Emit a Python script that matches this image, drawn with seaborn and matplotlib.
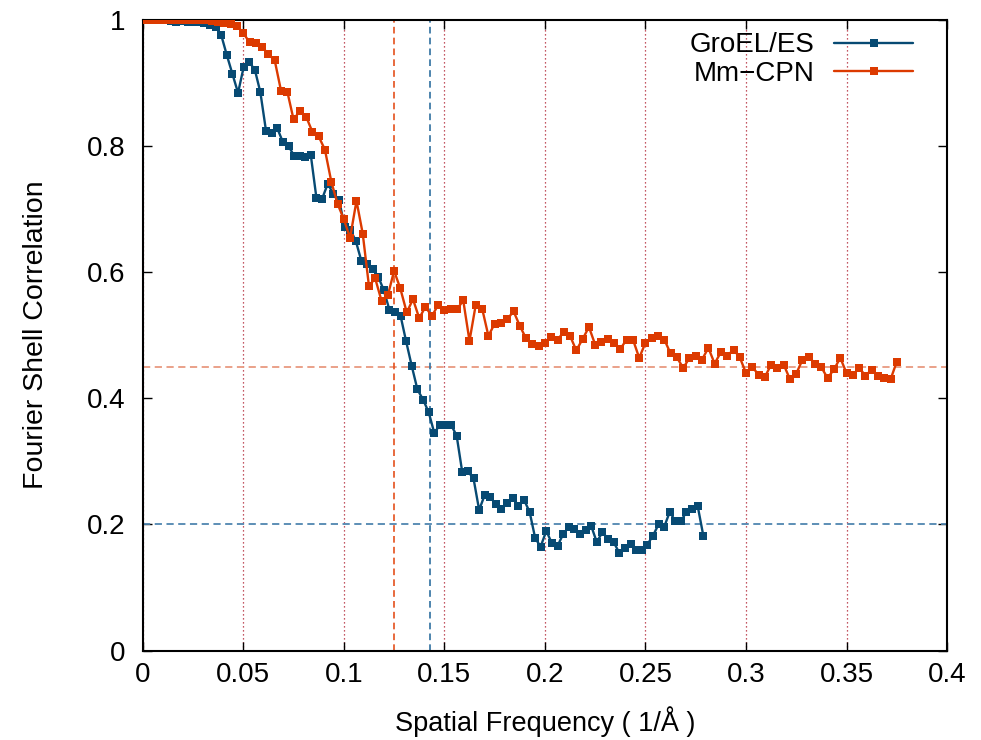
import matplotlib
matplotlib.use("Agg")
import matplotlib.pyplot as plt
import seaborn as sns
import pandas as pd

# ---------------- data ----------------
series_labels = ["GroEL/ES", "Mm\u2212CPN"]

blue_freq = [0.0000, 0.0028, 0.0056, 0.0084, 0.0112, 0.0139, 0.0167, 0.0195, 0.0223, 0.0251,
             0.0279, 0.0307, 0.0335, 0.0362, 0.0390, 0.0418, 0.0446, 0.0474, 0.0502, 0.0530,
             0.0558, 0.0585, 0.0613, 0.0641, 0.0669, 0.0697, 0.0725, 0.0753, 0.0781, 0.0809,
             0.0836, 0.0864, 0.0892, 0.0920, 0.0948, 0.0976, 0.1004, 0.1032, 0.1059, 0.1087,
             0.1115, 0.1143, 0.1171, 0.1199, 0.1227, 0.1255, 0.1282, 0.1310, 0.1338, 0.1366,
             0.1394, 0.1422, 0.1450, 0.1478, 0.1506, 0.1533, 0.1561, 0.1589, 0.1617, 0.1645,
             0.1673, 0.1701, 0.1729, 0.1756, 0.1784, 0.1812, 0.1840, 0.1868, 0.1896, 0.1924,
             0.1952, 0.1979, 0.2007, 0.2035, 0.2063, 0.2091, 0.2119, 0.2147, 0.2175, 0.2203,
             0.2230, 0.2258, 0.2286, 0.2314, 0.2342, 0.2370, 0.2398, 0.2426, 0.2453, 0.2481,
             0.2509, 0.2537, 0.2565, 0.2593, 0.2621, 0.2649, 0.2676, 0.2704, 0.2732, 0.2760,
             0.2788]
blue_fsc = [1.000, 1.000, 0.999, 0.999, 0.999, 0.998, 0.997, 0.998, 0.997, 0.996,
            0.996, 0.995, 0.992, 0.989, 0.976, 0.944, 0.914, 0.884, 0.925, 0.933,
            0.920, 0.885, 0.824, 0.820, 0.828, 0.806, 0.800, 0.784, 0.784, 0.783,
            0.785, 0.717, 0.716, 0.740, 0.724, 0.715, 0.672, 0.667, 0.650, 0.618,
            0.613, 0.605, 0.593, 0.571, 0.540, 0.537, 0.531, 0.490, 0.451, 0.414,
            0.398, 0.378, 0.345, 0.358, 0.358, 0.358, 0.341, 0.283, 0.284, 0.273,
            0.223, 0.247, 0.243, 0.232, 0.224, 0.234, 0.242, 0.230, 0.239, 0.220,
            0.178, 0.165, 0.190, 0.170, 0.166, 0.185, 0.196, 0.193, 0.185, 0.192,
            0.198, 0.172, 0.188, 0.177, 0.172, 0.155, 0.163, 0.169, 0.159, 0.159,
            0.168, 0.182, 0.200, 0.196, 0.220, 0.205, 0.205, 0.220, 0.225, 0.229,
            0.182]

red_freq = [0.0000, 0.0031, 0.0063, 0.0094, 0.0125, 0.0156, 0.0188, 0.0219, 0.0250, 0.0281,
            0.0313, 0.0344, 0.0375, 0.0406, 0.0438, 0.0469, 0.0500, 0.0531, 0.0563, 0.0594,
            0.0625, 0.0656, 0.0688, 0.0719, 0.0750, 0.0781, 0.0813, 0.0844, 0.0875, 0.0906,
            0.0938, 0.0969, 0.1000, 0.1031, 0.1063, 0.1094, 0.1125, 0.1156, 0.1188, 0.1219,
            0.1250, 0.1281, 0.1313, 0.1344, 0.1375, 0.1406, 0.1438, 0.1469, 0.1500, 0.1531,
            0.1563, 0.1594, 0.1625, 0.1656, 0.1688, 0.1719, 0.1750, 0.1781, 0.1813, 0.1844,
            0.1875, 0.1906, 0.1938, 0.1969, 0.2000, 0.2031, 0.2063, 0.2094, 0.2125, 0.2156,
            0.2188, 0.2219, 0.2250, 0.2281, 0.2313, 0.2344, 0.2375, 0.2406, 0.2438, 0.2469,
            0.2500, 0.2531, 0.2563, 0.2594, 0.2625, 0.2656, 0.2688, 0.2719, 0.2750, 0.2781,
            0.2813, 0.2844, 0.2875, 0.2906, 0.2938, 0.2969, 0.3000, 0.3031, 0.3063, 0.3094,
            0.3125, 0.3156, 0.3188, 0.3219, 0.3250, 0.3281, 0.3313, 0.3344, 0.3375, 0.3406,
            0.3438, 0.3469, 0.3500, 0.3531, 0.3563, 0.3594, 0.3625, 0.3656, 0.3688, 0.3719,
            0.3750]
red_fsc = [1.000, 1.000, 1.000, 1.000, 1.000, 1.000, 1.000, 1.000, 1.000, 1.000,
           0.999, 0.998, 0.997, 0.995, 0.993, 0.990, 0.979, 0.964, 0.963, 0.957,
           0.945, 0.936, 0.887, 0.886, 0.842, 0.855, 0.846, 0.822, 0.815, 0.794,
           0.743, 0.708, 0.684, 0.654, 0.713, 0.661, 0.578, 0.590, 0.554, 0.563,
           0.602, 0.574, 0.536, 0.557, 0.527, 0.545, 0.530, 0.548, 0.540, 0.541,
           0.541, 0.555, 0.491, 0.548, 0.542, 0.499, 0.518, 0.520, 0.525, 0.538,
           0.515, 0.495, 0.486, 0.483, 0.488, 0.497, 0.493, 0.505, 0.499, 0.476,
           0.494, 0.513, 0.485, 0.489, 0.494, 0.487, 0.478, 0.493, 0.493, 0.464,
           0.488, 0.496, 0.498, 0.493, 0.471, 0.465, 0.448, 0.464, 0.467, 0.461,
           0.480, 0.455, 0.473, 0.467, 0.477, 0.465, 0.440, 0.450, 0.437, 0.434,
           0.453, 0.448, 0.453, 0.430, 0.439, 0.461, 0.465, 0.455, 0.449, 0.432,
           0.446, 0.464, 0.440, 0.437, 0.448, 0.436, 0.445, 0.436, 0.432, 0.430,
           0.458]

# reference thresholds (blue, red)
ref_fsc = [0.2, 0.45]
ref_freq = [0.1429, 0.125]

x_ticks = [0, 0.05, 0.1, 0.15, 0.2, 0.25, 0.3, 0.35, 0.4]
x_tick_labels = ["0", "0.05", "0.1", "0.15", "0.2", "0.25", "0.3", "0.35", "0.4"]
y_ticks = [0, 0.2, 0.4, 0.6, 0.8, 1.0]
y_tick_labels = ["0", "0.2", "0.4", "0.6", "0.8", "1"]

# ---------------- style ----------------
sns.set_theme(style="ticks")
plt.rcParams["font.family"] = ["Liberation Sans", "DejaVu Sans"]
plt.rcParams["text.color"] = "black"
plt.rcParams["axes.labelcolor"] = "black"
plt.rcParams["xtick.color"] = "black"
plt.rcParams["ytick.color"] = "black"

BLUE = "#074a73"
RED = "#dc3a00"
FS_TICK = 20
FS_LEG = 20
FS_XLAB = 19.5
FS_YLAB = 20.5

fig = plt.figure(figsize=(9.81, 7.40), dpi=100)
ax = fig.add_axes([0.1455, 0.1207, 0.8199, 0.8527])
ax.set_xlim(0, 0.4)
ax.set_ylim(0, 1)

ax.grid(True, axis="x", color="#b02030", linestyle=(0, (1, 2.2)), linewidth=0.9)
ax.grid(False, axis="y")
ax.set_axisbelow(True)

# reference lines
ax.axhline(ref_fsc[1], color="#e89a80", linestyle=(0, (4, 2.5)), linewidth=1.3, zorder=1.5)
ax.axhline(ref_fsc[0], color="#4f86b0", linestyle=(0, (4, 2.5)), linewidth=1.3, zorder=1.5)
ax.axvline(ref_freq[1], color="#e4501c", linestyle=(0, (4, 2.5)), linewidth=1.2, zorder=1.5)
ax.axvline(ref_freq[0], color="#2f70a0", linestyle=(0, (4, 2.5)), linewidth=1.2, zorder=1.5)

df_blue = pd.DataFrame({"freq": blue_freq, "fsc": blue_fsc})
df_red = pd.DataFrame({"freq": red_freq, "fsc": red_fsc})

sns.lineplot(data=df_blue, x="freq", y="fsc", ax=ax, color=BLUE, linewidth=1.7,
             marker="s", markersize=6.4, markeredgewidth=0, sort=False, estimator=None,
             label=series_labels[0], zorder=3)
sns.lineplot(data=df_red, x="freq", y="fsc", ax=ax, color=RED, linewidth=1.7,
             marker="s", markersize=6.4, markeredgewidth=0, sort=False, estimator=None,
             label=series_labels[1], zorder=4)

ax.set_xticks(x_ticks)
ax.set_xticklabels(x_tick_labels)
ax.set_yticks(y_ticks)
ax.set_yticklabels(y_tick_labels)
ax.tick_params(direction="in", length=6.5, width=1.0, top=True, right=True,
               labelsize=FS_TICK)
ax.tick_params(axis="x", pad=8.5)
ax.tick_params(axis="y", pad=12.5)
for s in ax.spines.values():
    s.set_linewidth(1.5)
    s.set_color("black")

ax.set_xlabel("Spatial Frequency ( 1/\u00c5 )", fontsize=FS_XLAB, labelpad=13)
ax.set_ylabel("Fourier Shell Correlation", fontsize=FS_YLAB, labelpad=27)

h, l = ax.get_legend_handles_labels()
ax.legend(h, l, loc="upper right", bbox_to_anchor=(0.958, 0.98), markerfirst=False,
          frameon=False, handlelength=2.85, handletextpad=0.7, labelspacing=0.1,
          borderpad=0, borderaxespad=0, fontsize=FS_LEG)

fig.savefig("out.png", dpi=100)
